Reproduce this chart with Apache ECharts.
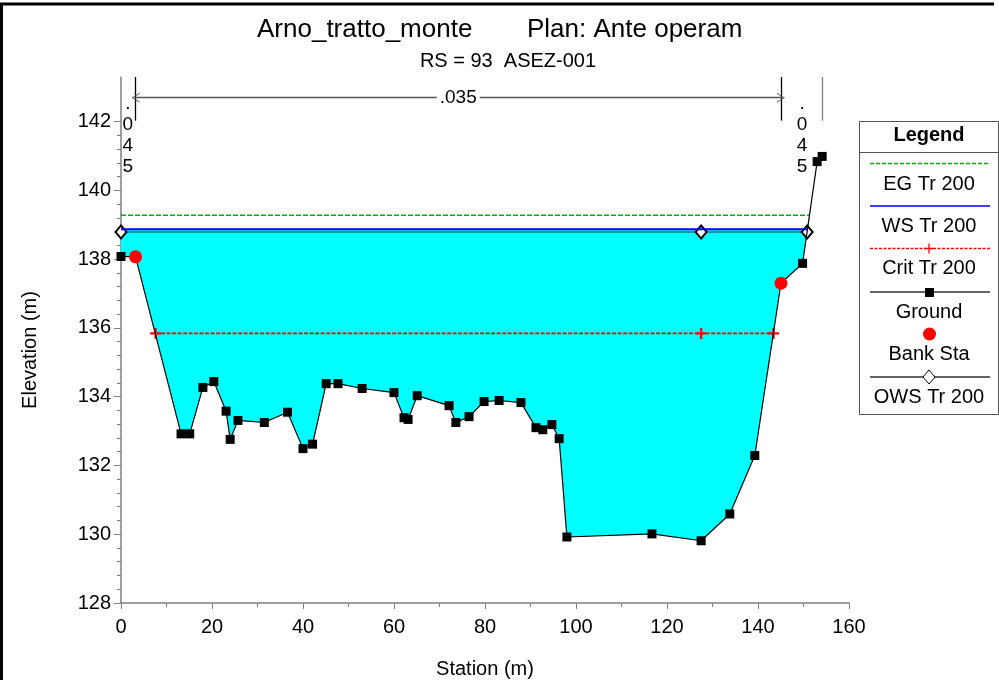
<!DOCTYPE html>
<html>
<head>
<meta charset="utf-8">
<script src="https://cdn.jsdelivr.net/npm/echarts@6/dist/echarts.min.js"></script>
<style>
  html, body { margin: 0; padding: 0; background: #fff; }
  #main { width: 999px; height: 680px; }
</style>
</head>
<body>
<div id="main"></div>
<script>
// cross-section ground (station m, elevation m)
const groundSta = [0, 3.2, 13.2, 15.1, 18.0, 20.4, 23.1, 24.0, 25.7, 31.5, 36.6, 40.0, 42.1,
  45.1, 47.7, 53.0, 60.0, 62.2, 63.1, 65.1, 72.1, 73.6, 76.5, 79.8, 83.1, 87.9, 91.2, 92.7,
  94.7, 96.3, 98.0, 116.7, 127.5, 133.8, 139.3, 145.05, 149.8, 153.0, 154.1];
const groundElev = [138.08, 138.07, 132.92, 132.92, 134.27, 134.44, 133.58, 132.76, 133.31,
  133.25, 133.55, 132.49, 132.62, 134.38, 134.38, 134.24, 134.12, 133.39, 133.34, 134.03,
  133.74, 133.25, 133.42, 133.86, 133.89, 133.83, 133.10, 133.04, 133.19, 132.78, 129.92,
  130.01, 129.81, 130.59, 132.29, 137.30, 137.88, 140.84, 140.99];

// bank stations
const bankSta = [3.2, 145.05];
const bankElev = [138.07, 137.30];

// water profiles
const egElev = 139.28;
const egSta = [0, 151.3];
const wsElev = 138.87;
const wsSta = [0, 150.9];
const owsElev = 138.79;
const owsSta = [0, 127.5, 150.8];
const critElev = 135.84;
const critSta = [7.6, 127.5, 143.4];

// manning n annotations
const nLeft = '.045', nChannel = '.035', nRight = '.045';
const nLeftSta = 1.5, nRightSta = 149.7, nLabelElev = 141.6;
const annotTop = 143.3, annotBottom = 142.03, arrowElev = 142.70;

// axis ticks
const yLabels = [128, 130, 132, 134, 136, 138, 140, 142];
const yMinor = [];
for (let i = 0; i < yLabels.length - 1; i++) {
  for (let k = 1; k < 5; k++) yMinor.push(+(yLabels[i] + k * 0.4).toFixed(2));
}

const ground = groundSta.map((s, i) => [s, groundElev[i]]);
const banks = bankSta.map((s, i) => [s, bankElev[i]]);

// water polygon: WS level on top, ground below
const waterPoly = [[wsSta[0], wsElev], [wsSta[1], wsElev]];
for (let i = ground.length - 1; i >= 0; i--) {
  if (ground[i][0] < wsSta[1]) waterPoly.push(ground[i]);
}

const chart = echarts.init(document.getElementById('main'));
const font = 'Liberation Sans, Arial, sans-serif';
const axisGray = '#7f7f7f';
const plusPath = 'path://M4,0 L6,0 L6,4 L10,4 L10,6 L6,6 L6,10 L4,10 L4,6 L0,6 L0,4 L4,4 Z';
const chevron = 'path://M0,10 L5,0 L10,10 L9,10 L5,2.2 L1,10 Z';
const txt = (x, y, text, size, extra) => Object.assign({
  type: 'text', x: x, y: y,
  style: { text: text, font: size + 'px ' + font, fill: '#000', textAlign: 'center', textVerticalAlign: 'middle' }
}, extra || {});

const option = {
  animation: false,
  backgroundColor: '#fff',
  textStyle: { fontFamily: font },
  grid: { left: 121, right: 150, top: 77, bottom: 77, containLabel: false, outerBoundsMode: 'none' },
  xAxis: {
    type: 'value', min: 0, max: 160, interval: 20,
    name: 'Station (m)', nameLocation: 'middle', nameGap: 56,
    nameTextStyle: { fontSize: 20, color: '#000', fontFamily: font },
    axisLine: { lineStyle: { color: axisGray, width: 1.5 } },
    axisTick: { length: 6, lineStyle: { color: axisGray } },
    minorTick: { show: true, splitNumber: 2, length: 4, lineStyle: { color: axisGray } },
    axisLabel: { fontSize: 20, color: '#000', margin: 14, fontFamily: font },
    splitLine: { show: false }
  },
  yAxis: [{
    type: 'value', min: 128, max: annotTop,
    axisLine: { show: true, lineStyle: { color: axisGray, width: 1.5 } },
    axisTick: { show: true, length: 7, customValues: yLabels, lineStyle: { color: axisGray } },
    axisLabel: { customValues: yLabels, fontSize: 20, color: '#000', margin: 10, fontFamily: font },
    splitLine: { show: false }
  }, {
    type: 'value', min: 128, max: annotTop, position: 'left',
    axisLine: { show: false },
    axisTick: { show: true, length: 4, customValues: yMinor, lineStyle: { color: axisGray } },
    axisLabel: { show: false },
    splitLine: { show: false }
  }],
  series: [
    {
      name: 'water', type: 'custom', z: 1, silent: true,
      data: waterPoly,
      renderItem: function (params, api) {
        if (params.dataIndex !== 0) return null;
        return {
          type: 'polygon',
          shape: { points: waterPoly.map(p => api.coord(p)) },
          style: { fill: '#00ffff' }
        };
      }
    },
    {
      name: 'EG Tr 200', type: 'line', z: 3, symbol: 'none',
      data: egSta.map(s => [s, egElev]),
      lineStyle: { color: '#00b000', width: 1.6, type: [5, 2] }
    },
    {
      name: 'OWS Tr 200', type: 'line', z: 3, symbol: 'emptyDiamond', symbolSize: [11, 13],
      clip: false,
      data: owsSta.map(s => [s, owsElev]),
      lineStyle: { color: '#1a7a7a', width: 1.5 },
      itemStyle: { color: '#000', borderColor: '#000', borderWidth: 1 }
    },
    {
      name: 'WS Tr 200', type: 'line', z: 4, symbol: 'none',
      data: wsSta.map(s => [s, wsElev]),
      lineStyle: { color: '#0000ff', width: 2 }
    },
    {
      name: 'Crit Tr 200', type: 'line', z: 3, symbol: plusPath, symbolSize: 11,
      data: critSta.map(s => [s, critElev]),
      lineStyle: { color: '#ff0000', width: 1.8, type: [4, 1.5] },
      itemStyle: { color: '#ff0000' }
    },
    {
      name: 'Ground', type: 'line', z: 5, symbol: 'rect', symbolSize: 9, clip: false,
      data: ground,
      lineStyle: { color: '#000', width: 1.2 },
      itemStyle: { color: '#000' },
      markLine: {
        silent: true, symbol: 'none', label: { show: false },
        lineStyle: { color: '#000', width: 1.3, type: 'solid' },
        data: [
          [{ coord: [bankSta[0], annotBottom] }, { coord: [bankSta[0], annotTop] }],
          [{ coord: [bankSta[1], annotBottom] }, { coord: [bankSta[1], annotTop] }],
          [{ coord: [groundSta[groundSta.length - 1], annotBottom], lineStyle: { color: axisGray } },
           { coord: [groundSta[groundSta.length - 1], annotTop] }],
          [{ coord: [bankSta[0], arrowElev], symbol: chevron, symbolSize: [10, 8], lineStyle: { color: '#555' } },
           { coord: [bankSta[1], arrowElev], symbol: chevron, symbolSize: [10, 8] }]
        ]
      }
    },
    {
      name: 'Bank Sta', type: 'scatter', z: 6, symbol: 'circle', symbolSize: 13, clip: false,
      data: banks, itemStyle: { color: '#ff0000', opacity: 1 }
    },
    {
      name: 'n labels', type: 'scatter', z: 7, symbolSize: 0, silent: true, clip: false,
      itemStyle: { opacity: 1, color: '#000' },
      data: [
        { value: [(bankSta[0] + bankSta[1]) / 2, arrowElev], label: { formatter: nChannel, backgroundColor: '#fff', padding: [0, 3] } },
        { value: [nLeftSta, nLabelElev], label: { formatter: nLeft.split('').join('\n'), lineHeight: 21 } },
        { value: [nRightSta, nLabelElev], label: { formatter: nRight.split('').join('\n'), lineHeight: 21 } }
      ],
      label: { show: true, position: 'inside', fontSize: 19, color: '#000', opacity: 1, textBorderWidth: 0, fontFamily: font }
    }
  ],
  graphic: [
    // outer frame
    { type: 'line', shape: { x1: 0, y1: 4, x2: 994, y2: 4 }, style: { stroke: '#000', lineWidth: 3 } },
    { type: 'line', shape: { x1: 1.5, y1: 4, x2: 1.5, y2: 680 }, style: { stroke: '#000', lineWidth: 3 } },
    // titles
    txt(257, 30, 'Arno_tratto_monte', 26, { style: { text: 'Arno_tratto_monte', font: '26px ' + font, fill: '#000', textVerticalAlign: 'middle' } }),
    txt(527, 30, 'Plan: Ante operam', 26, { style: { text: 'Plan: Ante operam', font: '26px ' + font, fill: '#000', textVerticalAlign: 'middle' } }),
    txt(508, 61, 'RS = 93  ASEZ-001', 20),
    txt(30, 350, 'Elevation (m)', 20, { rotation: Math.PI / 2 }),
    // legend box
    { type: 'rect', shape: { x: 859.5, y: 121.5, width: 139, height: 293 }, style: { fill: '#fff', stroke: '#555', lineWidth: 1 } },
    { type: 'line', shape: { x1: 859.5, y1: 152.5, x2: 998.5, y2: 152.5 }, style: { stroke: '#555', lineWidth: 1 } },
    { type: 'text', x: 929, y: 135, style: { text: 'Legend', font: 'bold 20px ' + font, fill: '#000', textAlign: 'center', textVerticalAlign: 'middle' } },
    { type: 'line', shape: { x1: 870, y1: 163.5, x2: 990, y2: 163.5 }, style: { stroke: '#00b000', lineWidth: 1.3, lineDash: [4, 2] } },
    txt(929, 184, 'EG Tr 200', 20),
    { type: 'line', shape: { x1: 870, y1: 206, x2: 990, y2: 206 }, style: { stroke: '#0000ff', lineWidth: 1.3 } },
    txt(929, 226, 'WS Tr 200', 20),
    { type: 'line', shape: { x1: 870, y1: 248.5, x2: 990, y2: 248.5 }, style: { stroke: '#ff0000', lineWidth: 1.3, lineDash: [3, 1.5] } },
    { type: 'line', shape: { x1: 924, y1: 248.5, x2: 934, y2: 248.5 }, style: { stroke: '#ff0000', lineWidth: 1.3 } },
    { type: 'line', shape: { x1: 929, y1: 243.5, x2: 929, y2: 253.5 }, style: { stroke: '#ff0000', lineWidth: 1.3 } },
    txt(929, 268, 'Crit Tr 200', 20),
    { type: 'line', shape: { x1: 870, y1: 292, x2: 990, y2: 292 }, style: { stroke: '#333', lineWidth: 1.5 } },
    { type: 'rect', shape: { x: 925, y: 288, width: 9, height: 9 }, style: { fill: '#000' } },
    txt(929, 312, 'Ground', 20),
    { type: 'circle', shape: { cx: 929.5, cy: 334, r: 6.5 }, style: { fill: '#ff0000' } },
    txt(929, 354, 'Bank Sta', 20),
    { type: 'line', shape: { x1: 870, y1: 377, x2: 990, y2: 377 }, style: { stroke: '#333', lineWidth: 1.5 } },
    { type: 'polygon', shape: { points: [[929, 370], [935, 377], [929, 384], [923, 377]] }, style: { fill: '#fff', stroke: '#000', lineWidth: 1 } },
    txt(929, 397, 'OWS Tr 200', 20)
  ]
};

chart.setOption(option);
</script>
</body>
</html>
